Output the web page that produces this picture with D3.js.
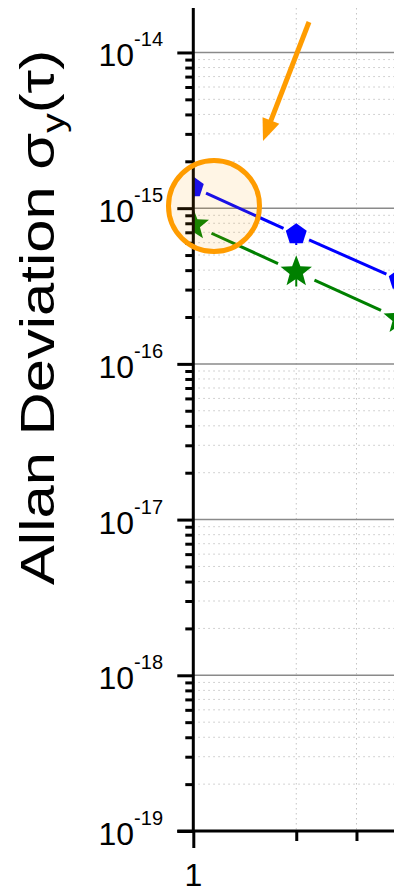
<!DOCTYPE html>
<html><head><meta charset="utf-8">
<script src="https://cdn.jsdelivr.net/npm/d3@7"></script>
<style>html,body{margin:0;padding:0;background:#fff;overflow:hidden}</style>
</head><body><svg id="c" width="394" height="887"></svg>
<script>
const tau = [1, 2, 4];
const adevBlue = [1.36e-15, 0.68e-15, 0.347e-15];
const errBlue = [0.2e-15, 0.1e-15, 0.05e-15];
const adevGreen = [0.78e-15, 0.39e-15, 0.195e-15];
const errGreen = [0.15e-15, 0.076e-15, 0.038e-15];
const yExponents = [-19, -18, -17, -16, -15, -14];
const xTickValues = [1];
const xTickLabels = ["1"];
const yTitleMain = "Allan Deviation \u03C3";
const yTitleSub = "y";
const yTitleEnd = "(\u03C4)";

(function () {
const svg = d3.select("#c");
const font = "'Liberation Sans', Arial, sans-serif";
const x = d3.scaleLog().domain([1, 10]).range([193.3, 535.3]);
const y = d3.scaleLog().domain([1e-19, 1.93e-14]).range([831, 8]);
const pL = 193.3, pT = 8, pB = 831, pR = 394;

svg.append("defs").append("clipPath").attr("id", "plot")
  .append("rect").attr("x", pL).attr("y", pT).attr("width", 400).attr("height", pB - pT);

const yMinor = [];
for (let e = -19; e <= -14; e++) for (let m = 2; m <= 9; m++) { const v = m * Math.pow(10, e); if (v <= 1.93e-14) yMinor.push(v); }
const yMajor = yExponents.map(e => Math.pow(10, e));
const xMinor = [2, 3, 4, 5, 6, 7, 8, 9];

const grid = svg.append("g").attr("clip-path", "url(#plot)");
grid.selectAll("line.hm").data(yMinor).join("line")
  .attr("x1", pL).attr("x2", pR + 10).attr("y1", d => y(d)).attr("y2", d => y(d))
  .attr("stroke", "#c4c4c4").attr("stroke-width", 1).attr("stroke-dasharray", "1.5,3.5");
grid.selectAll("line.vm").data(xMinor).join("line")
  .attr("x1", d => x(d)).attr("x2", d => x(d)).attr("y1", pT).attr("y2", pB)
  .attr("stroke", "#c4c4c4").attr("stroke-width", 1).attr("stroke-dasharray", "1.5,3.5");
grid.selectAll("line.hM").data(yMajor.slice(1)).join("line")
  .attr("x1", pL).attr("x2", pR + 10).attr("y1", d => y(d)).attr("y2", d => y(d))
  .attr("stroke", "#8a8a8a").attr("stroke-width", 1.5);

function pentagon(r) {
  const pts = [];
  for (let i = 0; i < 5; i++) { const a = -Math.PI / 2 + i * 2 * Math.PI / 5; pts.push([r * Math.cos(a), r * Math.sin(a)]); }
  return "M" + pts.map(p => p.join(",")).join("L") + "Z";
}
function star(R, r) {
  const pts = [];
  for (let i = 0; i < 10; i++) { const a = -Math.PI / 2 + i * Math.PI / 5; const rr = i % 2 ? r : R; pts.push([rr * Math.cos(a), rr * Math.sin(a)]); }
  return "M" + pts.map(p => p.join(",")).join("L") + "Z";
}
const series = [
  { vals: adevBlue, err: errBlue, color: "#0000ff", gap: 14, path: pentagon(11) },
  { vals: adevGreen, err: errGreen, color: "#008000", gap: 20, path: star(16.5, 7) }
];
const plot = svg.append("g").attr("clip-path", "url(#plot)");
series.forEach(s => {
  const pts = tau.map((t, i) => [x(t), y(s.vals[i])]);
  for (let i = 0; i < pts.length - 1; i++) {
    const [x1, y1] = pts[i], [x2, y2] = pts[i + 1];
    const L = Math.hypot(x2 - x1, y2 - y1), ux = (x2 - x1) / L, uy = (y2 - y1) / L;
    plot.append("line")
      .attr("x1", x1 + ux * s.gap).attr("y1", y1 + uy * s.gap)
      .attr("x2", x2 - ux * s.gap).attr("y2", y2 - uy * s.gap)
      .attr("stroke", s.color).attr("stroke-width", 3);
  }
  plot.selectAll(null).data(tau).enter().append("line")
    .attr("x1", d => x(d)).attr("x2", d => x(d))
    .attr("y1", (d, i) => y(s.vals[i] + s.err[i])).attr("y2", (d, i) => y(s.vals[i] - s.err[i]))
    .attr("stroke", s.color).attr("stroke-width", 2);
  plot.selectAll(null).data(tau).enter().append("path")
    .attr("d", s.path)
    .attr("transform", (d, i) => `translate(${x(d)},${y(s.vals[i])})`)
    .attr("fill", s.color);
});

const axY = svg.append("g").attr("transform", `translate(${pL},0)`);
axY.call(d3.axisLeft(y).tickValues(yMinor).tickSize(8).tickSizeOuter(0).tickFormat(""));
axY.append("g").call(d3.axisLeft(y).tickValues(yMajor).tickSize(16).tickSizeOuter(0).tickFormat(""));
axY.selectAll("path.domain").remove();
axY.selectAll("line").attr("stroke", "#000").attr("stroke-width", 3);

const axX = svg.append("g").attr("transform", `translate(0,${pB})`);
axX.call(d3.axisBottom(x).tickValues(xMinor).tickSize(10).tickSizeOuter(0).tickFormat(""));
axX.append("g").call(d3.axisBottom(x).tickValues(xTickValues).tickSize(17).tickSizeOuter(0).tickFormat(""));
axX.selectAll("path.domain").remove();
axX.selectAll("line").attr("stroke", "#000").attr("stroke-width", 3);

svg.append("line").attr("x1", pL).attr("x2", pL).attr("y1", pT).attr("y2", pB + 1.5)
  .attr("stroke", "#000").attr("stroke-width", 3);
svg.append("line").attr("x1", pL - 16).attr("x2", pR + 10).attr("y1", pB).attr("y2", pB)
  .attr("stroke", "#000").attr("stroke-width", 3);

const yl = svg.append("g").attr("font-family", font).attr("fill", "#000");
yExponents.forEach(e => {
  const t = yl.append("text").attr("x", 163).attr("y", y(Math.pow(10, e)) + 14)
    .attr("text-anchor", "end").attr("font-size", 32);
  t.append("tspan").text("10");
  t.append("tspan").attr("font-size", 20).attr("dy", -20).text(String(e));
});
svg.append("g").selectAll("text").data(xTickValues).join("text")
  .attr("x", d => x(d)).attr("y", 886).attr("text-anchor", "middle")
  .attr("font-family", font).attr("font-size", 32).text((d, i) => xTickLabels[i]);

const tt = svg.append("text").attr("transform", "translate(54,585) rotate(-90) scale(1.22,1)")
  .attr("font-family", font).attr("font-size", 49).attr("fill", "#000");
tt.append("tspan").text(yTitleMain);
tt.append("tspan").attr("font-size", 32).attr("dy", 10).text(yTitleSub);
tt.append("tspan").attr("dy", -10).text(yTitleEnd);

svg.append("circle").attr("cx", 214).attr("cy", 206).attr("r", 45.5)
  .attr("fill", "#ffa000").attr("fill-opacity", 0.1).attr("stroke", "#ff9c00").attr("stroke-width", 5);
const ax1 = 309, ay1 = 22, ax2 = 263, ay2 = 141;
const aL = Math.hypot(ax2 - ax1, ay2 - ay1), aux = (ax2 - ax1) / aL, auy = (ay2 - ay1) / aL;
const headLen = 22, headW = 9;
svg.append("line").attr("x1", ax1).attr("y1", ay1)
  .attr("x2", ax2 - aux * (headLen - 2)).attr("y2", ay2 - auy * (headLen - 2))
  .attr("stroke", "#ff9c00").attr("stroke-width", 5);
const bx = ax2 - aux * headLen, by = ay2 - auy * headLen;
svg.append("path").attr("d",
  `M${ax2},${ay2}L${bx - auy * headW},${by + aux * headW}L${bx + auy * headW},${by - aux * headW}Z`)
  .attr("fill", "#ff9c00");
})();
</script></body></html>
